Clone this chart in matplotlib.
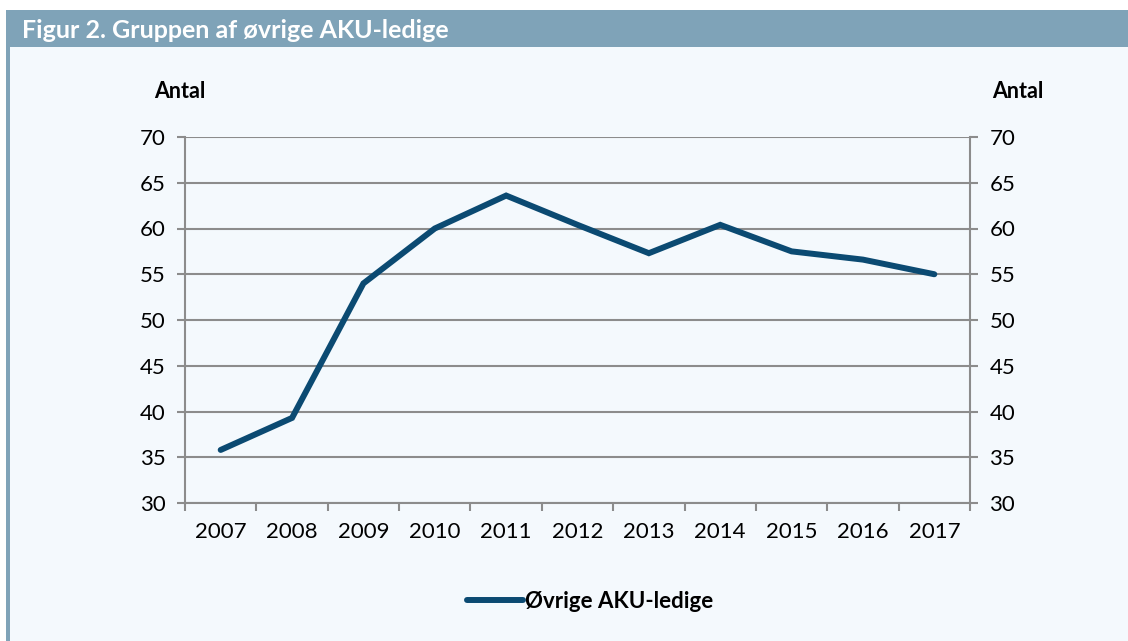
import matplotlib.pyplot as plt
import numpy as np
from matplotlib.patches import Rectangle

plt.rcParams['font.family'] = ['Lato', 'DejaVu Sans']

years = ['2007', '2008', '2009', '2010', '2011', '2012', '2013', '2014', '2015', '2016', '2017']
values = [35.8, 39.3, 54.0, 60.0, 63.6, 60.4, 57.3, 60.4, 57.5, 56.6, 55.0]
series_name = 'Øvrige AKU-ledige'
title = 'Figur 2. Gruppen af øvrige AKU-ledige'

bg = '#f4f9fd'
head = '#7fa3b8'
line_col = '#0b4a72'
grid_col = '#8c8c8c'

fig = plt.figure(figsize=(11.28, 6.41), dpi=100)
fig.patch.set_facecolor('white')

# panel background, header bar and left border (behind everything)
back = fig.add_axes([0, 0, 1, 1], zorder=-10)
back.set_axis_off()
back.set_xlim(0, 1128)
back.set_ylim(641, 0)
back.add_patch(Rectangle((6, 47), 1122, 594, facecolor=bg, edgecolor='none'))
back.add_patch(Rectangle((6, 10), 1122, 37, facecolor=head, edgecolor='none'))
back.add_patch(Rectangle((6, 47), 4, 594, facecolor=head, edgecolor='none'))
back.text(22, 31, title, color='white', fontsize=18, fontweight='bold', va='center', ha='left')
back.text(180, 92, 'Antal', fontsize=15.5, fontweight='bold', ha='center', va='center')
back.text(1018, 92, 'Antal', fontsize=15.5, fontweight='bold', ha='center', va='center')

ax = fig.add_axes([185 / 1128, 138 / 641, 785 / 1128, 366 / 641])
ax.set_facecolor('none')
x = np.arange(len(years))
ax.plot(x, values, color=line_col, lw=4.3, solid_capstyle='round', solid_joinstyle='miter',
        label=series_name, zorder=3)

ax.set_xlim(-0.5, len(years) - 0.5)
ax.set_ylim(30, 70)
ax.set_yticks(np.arange(30, 71, 5))
ax.yaxis.grid(True, color=grid_col, lw=1.5)
ax.set_axisbelow(True)
ax.set_xticks(x)
ax.set_xticklabels(years)
ax.set_xticks(np.arange(-0.5, len(years), 1), minor=True)
ax.tick_params(axis='x', which='major', length=0, pad=14, labelsize=16)
ax.tick_params(axis='x', which='minor', length=6, width=1.5, color=grid_col, direction='out')
ax.tick_params(axis='y', length=6, width=1.5, color=grid_col, pad=8, labelsize=16)
for s in ['left', 'right', 'bottom']:
    ax.spines[s].set_color(grid_col)
    ax.spines[s].set_linewidth(1.5)
ax.spines['top'].set_visible(False)

ax2 = ax.twinx()
ax2.set_ylim(30, 70)
ax2.set_yticks(np.arange(30, 71, 5))
ax2.tick_params(axis='y', length=6, width=1.5, color=grid_col, pad=8, labelsize=16)
for s in ['left', 'right', 'bottom', 'top']:
    ax2.spines[s].set_visible(False)

leg = ax.legend(loc='center', bbox_to_anchor=(590 / 1128, 1 - 601 / 641),
                bbox_transform=fig.transFigure, frameon=False, handlelength=2.5,
                handletextpad=0.1, prop={'weight': 'bold', 'size': 16})

fig.savefig('out.png', dpi=100, facecolor=fig.get_facecolor())
